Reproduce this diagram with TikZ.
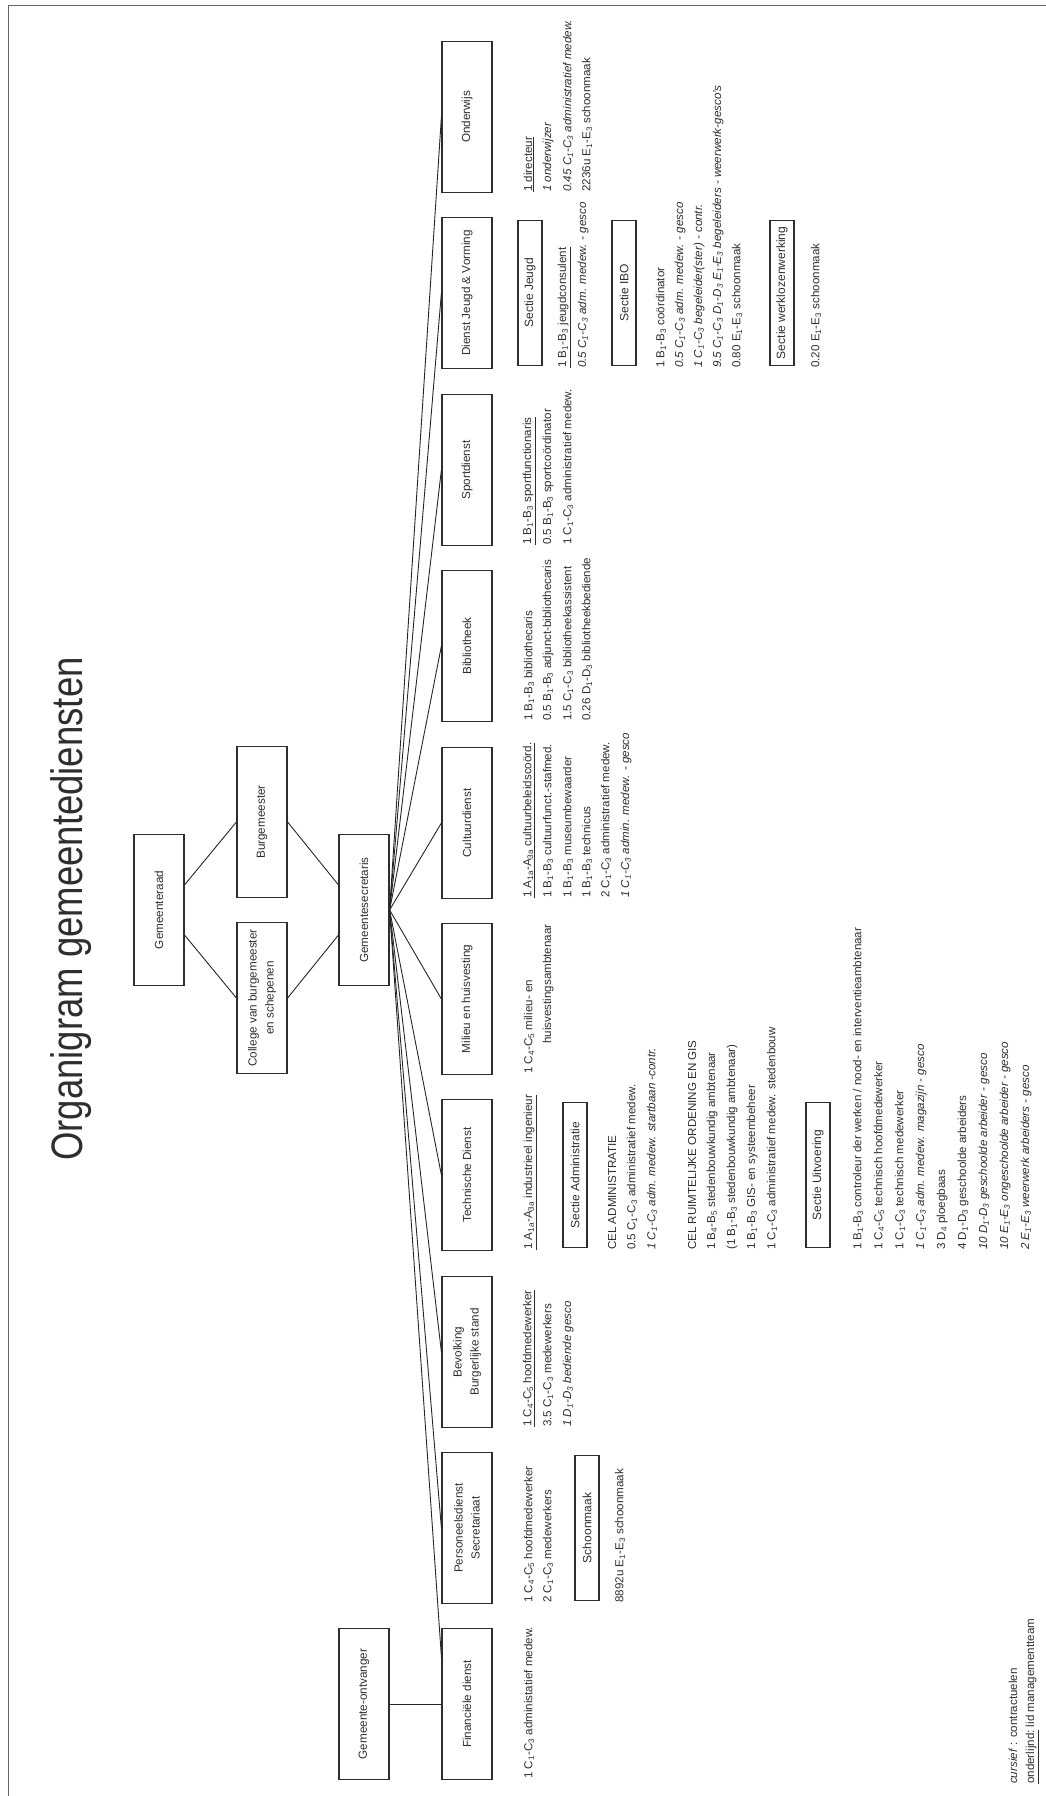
\documentclass[tikz,border=0pt]{standalone}
\usepackage{fontspec}
\setmainfont{Liberation Sans}
\newfontfamily\titlefont[FakeStretch=0.83]{Liberation Sans}
\usetikzlibrary{calc}
\newcommand\lo[1]{\textsubscript{#1}}
\definecolor{ink}{HTML}{2E2E2E}
\newcommand\Ln[4]{\node[ln] (#1) at (#2,#3) {#4};}
\begin{document}
\begin{tikzpicture}[x=1pt,y=-1pt,
  dept/.style={draw=ink, line width=1.2pt, minimum width=151pt, minimum height=50pt, inner sep=0pt, align=center, font=\fontsize{11.7}{17}\selectfont, text=ink},
  sect/.style={draw=ink, line width=1.1pt, minimum width=145pt, minimum height=24pt, inner sep=0pt, font=\fontsize{12}{14}\selectfont, text=ink},
  ln/.style={anchor=west, inner sep=0pt, font=\fontsize{11.6}{13}\selectfont, text=ink},
  conn/.style={draw=black!85, line width=0.9pt}]
\begin{scope}[rotate=90, transform shape]
\path[use as bounding box] (0,0) rectangle (1796,1046);
\draw[black!60, line width=1pt] (0,8) -- (1790,8) -- (1790,1046);

\node[font=\titlefont\fontsize{44}{50}\selectfont, text=ink, anchor=base, inner sep=0pt] (title) at (887,82) {Organigram gemeentediensten};

% top hierarchy
\node[dept] (gr)  at (886,159) {Gemeenteraad};
\node[dept] (bm)  at (974,262) {Burgemeester};
\node[dept] (col) at (798,262) {College van burgemeester\\en schepenen};
\node[dept] (gs)  at (886,364) {Gemeentesecretaris};
\node[dept] (go)  at (92,364) {Gemeente-ontvanger};

% departments
\node[dept] (fin)   at (92,467)   {Financi\"ele dienst};
\node[dept] (pers)  at (268,467)  {Personeelsdienst\\Secretariaat};
\node[dept] (bev)   at (444,467)  {Bevolking\\Burgerlijke stand};
\node[dept] (tech)  at (621,467)  {Technische Dienst};
\node[dept] (mil)   at (797,467)  {Milieu en huisvesting};
\node[dept] (cult)  at (973,467)  {Cultuurdienst};
\node[dept] (bib)   at (1150,467) {Bibliotheek};
\node[dept] (sport) at (1326,467) {Sportdienst};
\node[dept] (jeugd) at (1503,467) {Dienst Jeugd \& Vorming};
\node[dept] (ond)   at (1679,467) {Onderwijs};

% connectors
\draw[conn] ($(gr.south)!0.33!(gr.south east)$) -- (bm.north);
\draw[conn] ($(gr.south)!0.33!(gr.south west)$) -- (col.north);
\draw[conn] (bm.south) -- ($(gs.north)!0.33!(gs.north east)$);
\draw[conn] (col.south) -- ($(gs.north)!0.33!(gs.north west)$);
\draw[conn] (gs.south) -- ($(fin.north)!0.62!(fin.north east)$);
\foreach \d in {pers,bev,tech,mil,cult,bib,sport,jeugd,ond}
  \draw[conn] (gs.south) -- (\d.north);
\draw[conn] (go.south) -- (fin.north);

% Financiele dienst
\Ln{f1}{17}{529}{1 C\lo1-C\lo3 administatief medew.}

% Personeelsdienst
\Ln{p1}{193}{529}{1 C\lo4-C\lo5 hoofdmedewerker}
\Ln{p2}{193}{548}{2 C\lo1-C\lo3 medewerkers}
\node[sect] (pschoon) at (268,587) {Schoonmaak};
\Ln{p3}{193}{620}{8892u E\lo1-E\lo3 schoonmaak}

% Bevolking
\Ln{b1}{369}{529}{\underline{1 C\lo4-C\lo5 hoofdmedewerker}}
\Ln{b2}{369}{548}{3.5 C\lo1-C\lo3 medewerkers}
\Ln{b3}{369}{568}{\textit{1 D\lo1-D\lo3 bediende gesco}}

% Technische Dienst
\Ln{t1}{546}{530}{\underline{1 A\lo{1a}-A\lo{3a} industrieel ingenieur}}
\node[sect] (tadm) at (621,575) {Sectie Administratie};
\Ln{t2}{546}{612}{CEL ADMINISTRATIE}
\Ln{t3}{546}{632}{0.5 C\lo1-C\lo3 administratief medew.}
\Ln{t4}{546}{652}{\textit{1 C\lo1-C\lo3 adm. medew. startbaan -contr.}}
\Ln{t5}{546}{692}{CEL RUIMTELIJKE ORDENING EN GIS}
\Ln{t6}{546}{712}{1 B\lo4-B\lo5 stedenbouwkundig ambtenaar}
\Ln{t7}{546}{732}{(1 B\lo1-B\lo3 stedenbouwkundig ambtenaar)}
\Ln{t8}{546}{752}{1 B\lo1-B\lo3 GIS- en systeembeheer}
\Ln{t9}{546}{772}{1 C\lo1-C\lo3 administratief medew. stedenbouw}
\node[sect] (tuit) at (621,818) {Sectie Uitvoering};
\Ln{t10}{546}{858}{1 B\lo1-B\lo3 controleur der werken / nood- en interventieambtenaar}
\Ln{t11}{546}{879}{1 C\lo4-C\lo5 technisch hoofdmedewerker}
\Ln{t12}{546}{900}{1 C\lo1-C\lo3 technisch medewerker}
\Ln{t13}{546}{921}{\textit{1 C\lo1-C\lo3 adm. medew. magazijn - gesco}}
\Ln{t14}{546}{942}{3 D\lo4 ploegbaas}
\Ln{t15}{546}{963}{4 D\lo1-D\lo3 geschoolde arbeiders}
\Ln{t16}{546}{984}{\textit{10 D\lo1-D\lo3 geschoolde arbeider - gesco}}
\Ln{t17}{546}{1005}{\textit{10 E\lo1-E\lo3 ongeschoolde arbeider - gesco}}
\Ln{t18}{546}{1026}{\textit{2 E\lo1-E\lo3 weerwerk arbeiders - gesco}}

% Milieu
\Ln{m1}{722}{529}{1 C\lo4-C\lo5 milieu- en}
\Ln{m2}{752}{548}{huisvestingsambtenaar}

% Cultuur
\Ln{c1}{898}{529}{\underline{1 A\lo{1a}-A\lo{3a} cultuurbeleidsco\"ord.}}
\Ln{c2}{898}{548}{1 B\lo1-B\lo3 cultuurfunct.-stafmed.}
\Ln{c3}{898}{568}{1 B\lo1-B\lo3 museumbewaarder}
\Ln{c4}{898}{587}{1 B\lo1-B\lo3 technicus}
\Ln{c5}{898}{606}{2 C\lo1-C\lo3 administratief medew.}
\Ln{c6}{898}{626}{\textit{1 C\lo1-C\lo3 admin. medew. - gesco}}

% Bibliotheek
\Ln{l1}{1075}{529}{1 B\lo1-B\lo3 bibliothecaris}
\Ln{l2}{1075}{548}{0.5 B\lo1-B\lo3 adjunct-bibliothecaris}
\Ln{l3}{1075}{568}{1.5 C\lo1-C\lo3 bibliotheekassistent}
\Ln{l4}{1075}{587}{0.26 D\lo1-D\lo3 bibliotheekbediende}

% Sport
\Ln{s1}{1251}{529}{\underline{1 B\lo1-B\lo3 sportfunctionaris}}
\Ln{s2}{1251}{548}{0.5 B\lo1-B\lo3 sportco\"ordinator}
\Ln{s3}{1251}{568}{1 C\lo1-C\lo3 administratief medew.}

% Jeugd
\node[sect] (sjeugd) at (1503,530) {Sectie Jeugd};
\Ln{j1}{1428}{564}{\underline{1 B\lo1-B\lo3 jeugdconsulent}}
\Ln{j2}{1428}{583}{\textit{0.5 C\lo1-C\lo3 adm. medew. - gesco}}
\node[sect] (sibo) at (1503,624) {Sectie IBO};
\Ln{j3}{1428}{661}{1 B\lo1-B\lo3 co\"ordinator}
\Ln{j4}{1428}{680}{\textit{0.5 C\lo1-C\lo3 adm. medew. - gesco}}
\Ln{j5}{1428}{699}{\textit{1 C\lo1-C\lo3 begeleider(ster) - contr.}}
\Ln{j6}{1428}{718}{\textit{9.5 C\lo1-C\lo3 D\lo1-D\lo3 E\lo1-E\lo3 begeleiders - weerwerk-gesco's}}
\Ln{j7}{1428}{737}{0.80 E\lo1-E\lo3 schoonmaak}
\node[sect] (swerk) at (1503,782) {Sectie werklozenwerking};
\Ln{j8}{1428}{816}{0.20 E\lo1-E\lo3 schoonmaak}

% Onderwijs
\Ln{o1}{1604}{529}{\underline{1 directeur}}
\Ln{o2}{1604}{548}{\textit{1 onderwijzer}}
\Ln{o3}{1604}{568}{\textit{0.45 C\lo1-C\lo3 administratief medew.}}
\Ln{o4}{1604}{587}{2236u E\lo1-E\lo3 schoonmaak}

% legend
\Ln{leg1}{12}{1013}{\textit{cursief} : contractuelen}
\Ln{leg2}{12}{1032}{\underline{onderlijnd:} lid managementteam}
\end{scope}
\end{tikzpicture}
\end{document}
